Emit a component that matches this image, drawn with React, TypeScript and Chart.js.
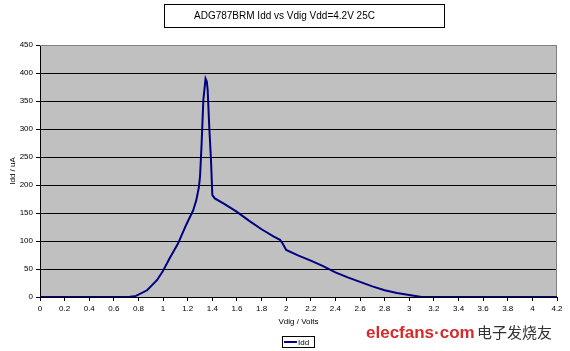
import React, { useEffect, useRef } from "react";
import { Chart, registerables } from "chart.js";

Chart.register(...registerables);

const chartTitle = "ADG787BRM Idd vs Vdig Vdd=4.2V 25C";
const seriesLabel = "Idd";
const xTitle = "Vdig / Volts";
const yTitle = "Idd / uA";
const watermarkLatin = "elecfans·com";
const watermarkCjk = "电子发烧友";

const voltage = [
  0, 0.72, 0.78, 0.87, 0.95, 1.0, 1.05, 1.12, 1.19, 1.245, 1.27, 1.29, 1.3, 1.313,
  1.327, 1.345, 1.355, 1.362, 1.375, 1.389, 1.4, 1.42, 1.5, 1.6, 1.7, 1.8, 1.9, 1.95,
  1.97, 2.0, 2.1, 2.2, 2.3, 2.4, 2.5, 2.6, 2.7, 2.8, 2.9, 3.0, 3.1, 4.2,
];
const current = [
  0, 0, 2, 12, 30, 47, 68, 95, 130, 155, 173, 195, 215, 274,
  352, 390, 385, 370, 304, 245, 182, 176, 166, 152, 136, 121, 108, 102,
  96, 84, 74, 65, 55, 44, 35, 27, 19, 12, 7, 3.5, 0, 0,
];

const FONT = "Arial, 'Liberation Sans', sans-serif";

export default function App() {
  const ref = useRef<HTMLCanvasElement | null>(null);

  useEffect(() => {
    document.body.style.margin = "0";
    const canvas = ref.current;
    if (!canvas) return;

    const decor = {
      id: "decor",
      beforeDraw(chart: any) {
        const { ctx, chartArea: a } = chart;
        ctx.save();
        ctx.fillStyle = "#ffffff";
        ctx.fillRect(0, 0, chart.width, chart.height);
        ctx.fillStyle = "#c0c0c0";
        ctx.fillRect(a.left, a.top, a.right - a.left, a.bottom - a.top);
        ctx.restore();
      },
      beforeDatasetsDraw(chart: any) {
        const { ctx, chartArea: a } = chart;
        ctx.save();
        ctx.strokeStyle = "#808080";
        ctx.lineWidth = 1;
        ctx.beginPath();
        ctx.moveTo(a.left, a.top + 0.5);
        ctx.lineTo(a.right - 0.5, a.top + 0.5);
        ctx.lineTo(a.right - 0.5, a.bottom);
        ctx.stroke();
        ctx.restore();
      },
      afterDraw(chart: any) {
        const { ctx } = chart;
        ctx.save();
        // title box
        ctx.fillStyle = "#ffffff";
        ctx.fillRect(164, 4, 280, 23);
        ctx.strokeStyle = "#000000";
        ctx.lineWidth = 1;
        ctx.strokeRect(164.5, 4.5, 280, 23);
        ctx.fillStyle = "#000000";
        ctx.font = `10px ${FONT}`;
        ctx.textBaseline = "middle";
        ctx.textAlign = "left";
        ctx.fillText(chartTitle, 194, 16);
        // legend
        const ds = chart.data.datasets[0];
        ctx.fillStyle = "#ffffff";
        ctx.fillRect(282, 336, 32, 11);
        ctx.strokeRect(282.5, 336.5, 32, 11);
        ctx.strokeStyle = ds.borderColor;
        ctx.lineWidth = 2;
        ctx.beginPath();
        ctx.moveTo(284, 342);
        ctx.lineTo(297, 342);
        ctx.stroke();
        ctx.fillStyle = "#000000";
        ctx.font = `8px ${FONT}`;
        ctx.fillText(ds.label, 298, 342.5);
        // watermark
        ctx.fillStyle = "#d42a2a";
        ctx.font = `bold 17px ${FONT}`;
        ctx.textBaseline = "alphabetic";
        ctx.fillText(watermarkLatin, 366, 338);
        ctx.fillStyle = "#333333";
        ctx.font = `15px 'Noto Sans CJK SC', sans-serif`;
        ctx.fillText(watermarkCjk, 477, 338);
        ctx.restore();
      },
    };

    const chart = new Chart(canvas, {
      type: "scatter",
      data: {
        datasets: [
          {
            label: seriesLabel,
            data: voltage.map((v, i) => ({ x: v, y: current[i] })),
            showLine: true,
            borderColor: "#000080",
            backgroundColor: "#000080",
            borderWidth: 2,
            pointRadius: 0,
            tension: 0,
          },
        ],
      },
      options: {
        responsive: false,
        animation: false,
        layout: { padding: { left: 0, right: 13, top: 45, bottom: 0 } },
        plugins: {
          legend: { display: false },
          title: { display: false },
          tooltip: { enabled: false },
        },
        scales: {
          x: {
            type: "linear",
            min: 0,
            max: 4.2,
            afterFit(scale: any) {
              scale.height = 54;
            },
            ticks: {
              stepSize: 0.2,
              autoSkip: false,
              maxRotation: 0,
              padding: 3,
              color: "#000000",
              font: { family: FONT, size: 8 },
              callback: (v: any) => String(Number(Number(v).toFixed(1))),
            },
            grid: {
              drawOnChartArea: false,
              drawTicks: true,
              tickLength: 4,
              color: "#000000",
            },
            border: { display: true, color: "#000000", width: 1 },
            title: {
              display: true,
              text: xTitle,
              color: "#000000",
              font: { family: FONT, size: 8 },
              padding: { top: 0, bottom: 24 },
            },
          },
          y: {
            type: "linear",
            min: 0,
            max: 450,
            afterFit(scale: any) {
              scale.width = 40;
            },
            ticks: {
              stepSize: 50,
              padding: 3,
              color: "#000000",
              font: { family: FONT, size: 8 },
            },
            grid: {
              drawTicks: true,
              tickLength: 4,
              color: (c: any) => (c.tick && c.tick.value === 450 ? "#808080" : "#000000"),
              tickColor: "#000000",
            },
            border: { display: true, color: "#000000", width: 1 },
            title: {
              display: true,
              text: yTitle,
              color: "#000000",
              font: { family: FONT, size: 8 },
              padding: { top: 8, bottom: 0 },
            },
          },
        },
      },
      plugins: [decor],
    });

    return () => chart.destroy();
  }, []);

  return <canvas ref={ref} width={570} height={351} style={{ display: "block" }} />;
}
